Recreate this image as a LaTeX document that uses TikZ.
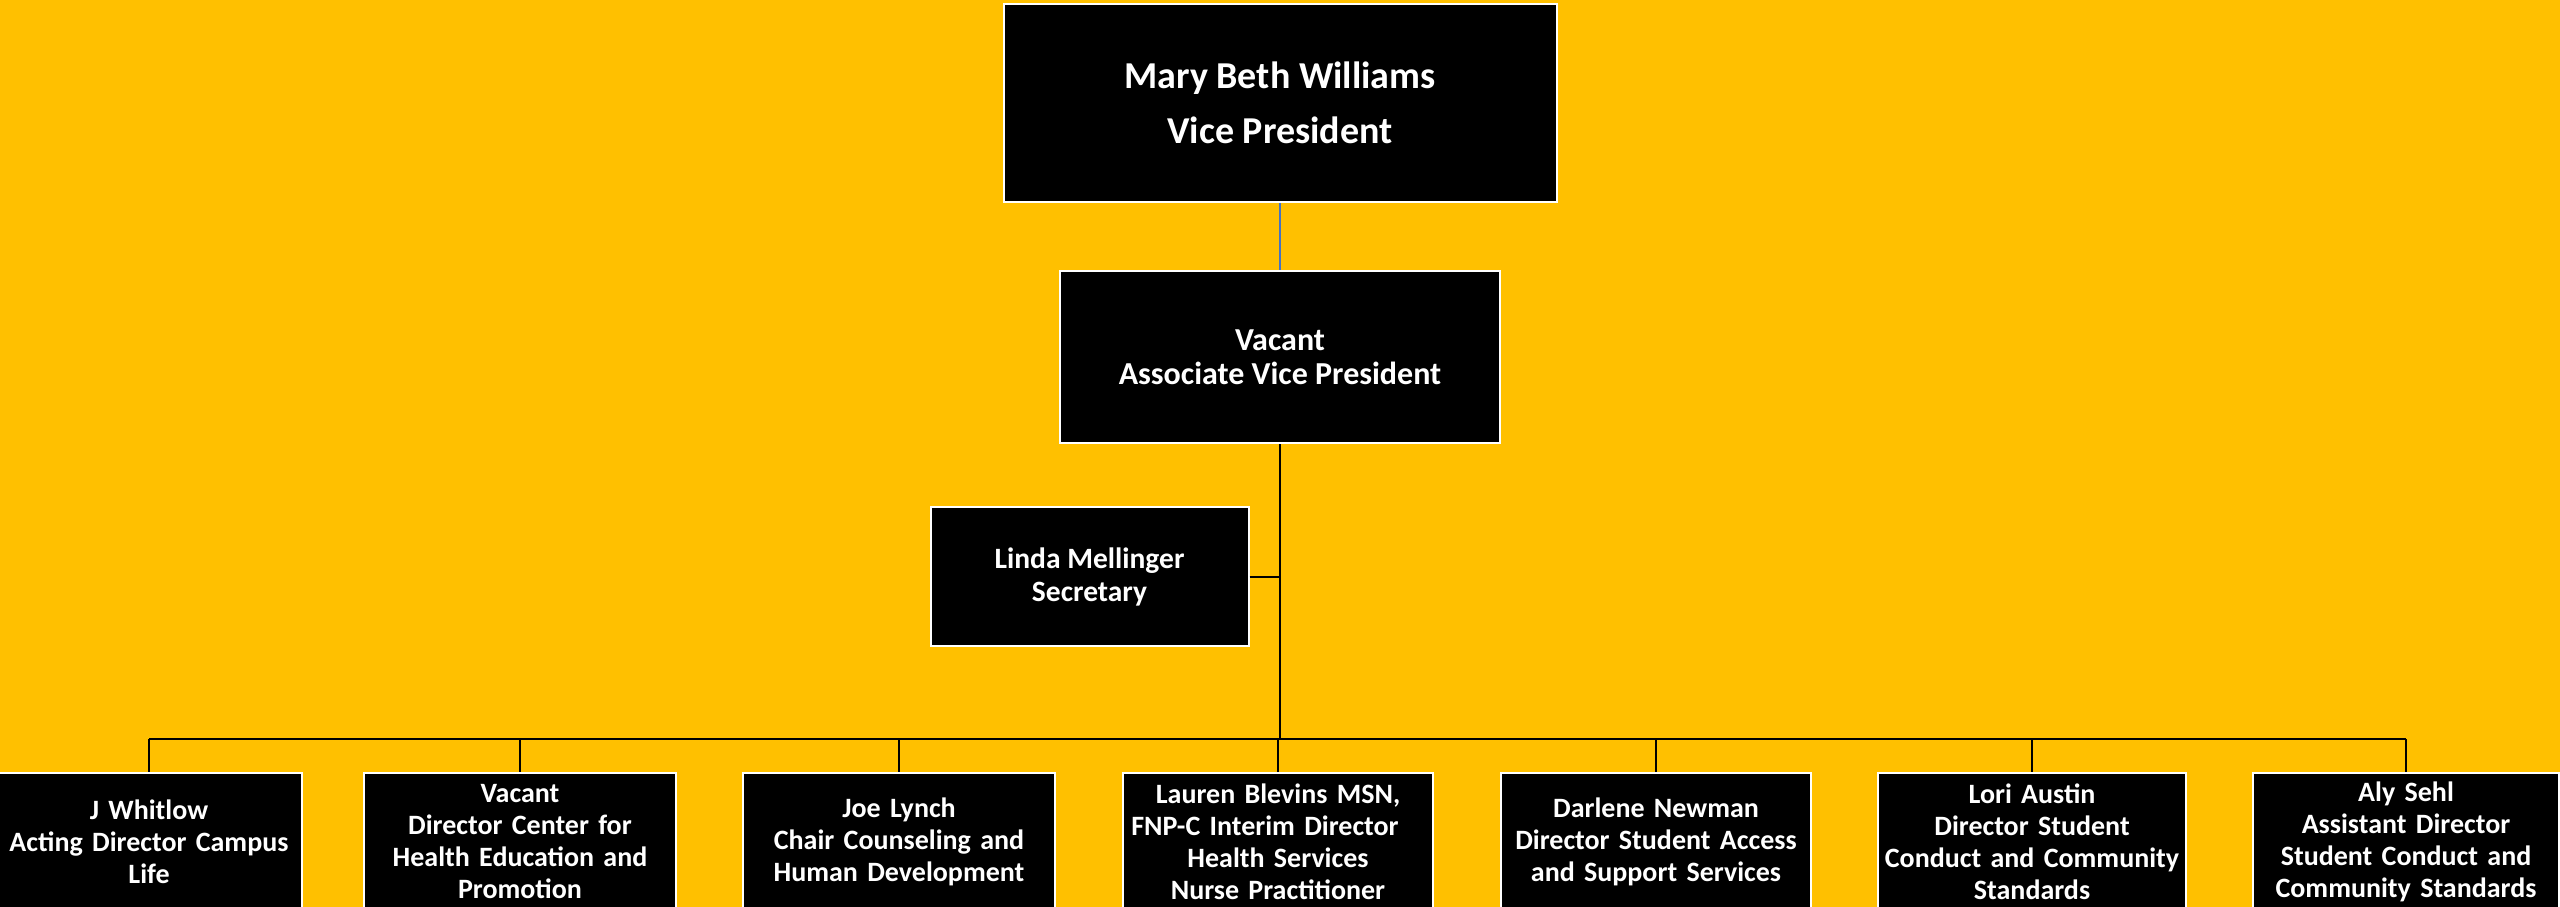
\documentclass[tikz,border=0pt]{standalone}
\usepackage{fontspec}
\setmainfont{Carlito}
\definecolor{bggold}{RGB}{255,192,0}
\definecolor{thinblue}{RGB}{68,114,196}
\begin{document}
\begin{tikzpicture}[x=1pt,y=-1pt,
  box/.style={draw=white, line width=2pt, fill=black, text=white, align=center, inner sep=0pt},
  smallbox/.style={box, anchor=north, minimum width=310, minimum height=138, text width=306,
    font=\bfseries\fontsize{28}{32}\selectfont},
  conn/.style={line width=2.5pt, black},
  drop/.style={line width=2pt, black}]
\useasboundingbox (0,0) rectangle (2560,907);
\clip (0,0) rectangle (2560,907);
\fill[bggold] (0,0) rectangle (2560,907);

\node[box, minimum width=553, minimum height=198, font=\bfseries\fontsize{38}{55}\selectfont] (vp) at (1280,103) {Mary Beth Williams\\Vice President};
\node[box, minimum width=440, minimum height=172, font=\bfseries\fontsize{32}{34}\selectfont] (avp) at (1280,357) {Vacant\\Associate Vice President};
\node[box, minimum width=318, minimum height=139, font=\bfseries\fontsize{29.5}{33}\selectfont] (sec) at (1089.5,576.5) {Linda Mellinger\\Secretary};

\node[smallbox, minimum width=294] (b1) at (149,772) {J Whitlow\\Acting Director Campus\\Life};
\node[smallbox, minimum width=312] (b2) at (520,772) {Vacant\\Director Center for\\Health Education and\\Promotion};
\node[smallbox, minimum width=312] (b3) at (899,772) {Joe Lynch\\Chair Counseling and\\Human Development};
\node[smallbox] (b4) at (1278,772) {Lauren Blevins MSN,\\FNP-C Interim Director\rule{26pt}{0pt}\\Health Services\\Nurse Practitioner};
\node[smallbox] (b5) at (1656,772) {Darlene Newman\\Director Student Access\\and Support Services};
\node[smallbox, minimum width=308] (b6) at (2032,772) {Lori Austin\\Director Student\\Conduct and Community\\Standards};
\node[smallbox, minimum width=302] (b7) at (2406,772) {Aly Sehl\\Assistant Director\\Student Conduct and\\Community Standards};

\coordinate (bus) at (1280,739);
\coordinate (secj) at (1280,577);

\draw[thinblue, line width=1.5pt] (vp.south) -- (avp.north);
\draw[conn] (avp.south) -- (bus);
\draw[drop] (sec.east |- secj) -- (secj);
\draw[conn] (b1.north |- bus) -- (b7.north |- bus);
\foreach \b in {b1,b2,b3,b4,b5,b6,b7}{
  \draw[drop] (\b.north |- bus) -- (\b.north);
}
\end{tikzpicture}
\end{document}
